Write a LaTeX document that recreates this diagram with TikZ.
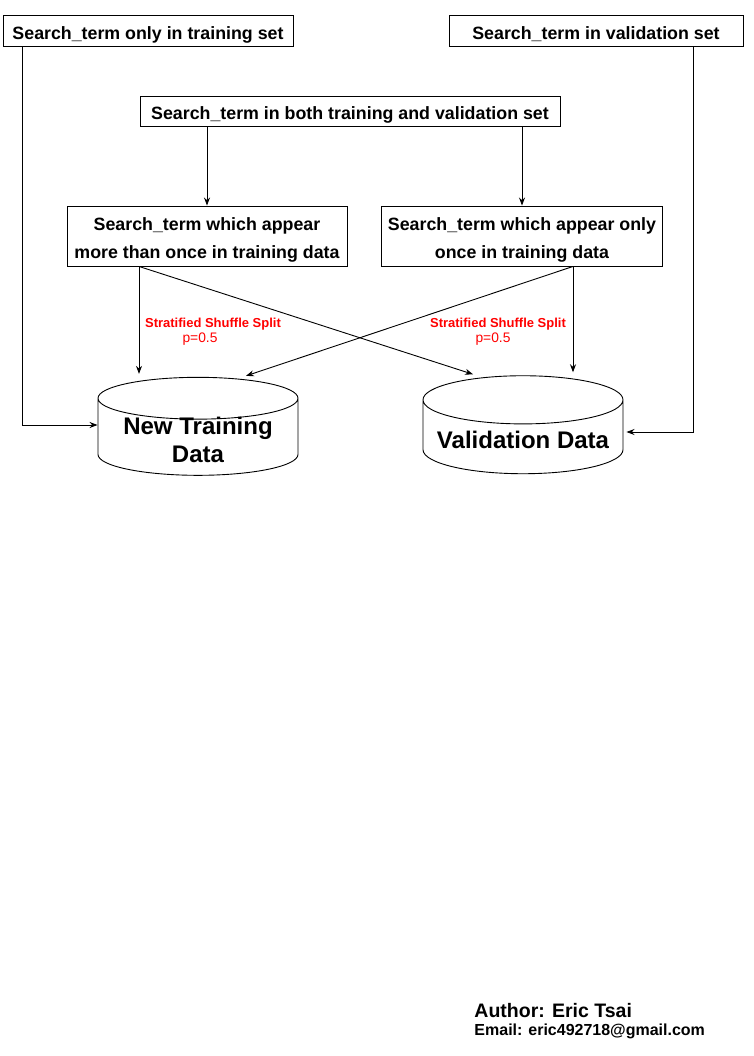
\documentclass[tikz,border=0pt]{standalone}
\usepackage{fontspec}
\setmainfont{Liberation Sans}
\usetikzlibrary{arrows.meta,shapes.geometric}

\begin{document}
\begin{tikzpicture}[x=1pt,y=-1pt,>={Stealth[length=8pt,width=6pt]},line width=0.9pt,
  font=\bfseries\fontsize{17.8}{28}\selectfont,
  term/.style={draw,inner sep=2pt,align=center,text height=18pt,text depth=0pt},
  term2/.style={term,text height=45pt},
  store/.style={draw,cylinder,shape border rotate=90,aspect=0.28,inner sep=0pt,
    minimum width=200pt,minimum height=98pt,text height=23.5pt,text depth=0pt,
    font=\bfseries\fontsize{24}{28}\selectfont},
  split/.style={text=red,inner sep=0pt,font=\bfseries\fontsize{13}{14}\selectfont},
  prob/.style={text=red,inner sep=0pt,font=\fontsize{13.8}{14}\selectfont}]
  \useasboundingbox (0,0) rectangle (753,1056);
  \node[term,minimum width=290pt,minimum height=31pt] (train) at (148, 31) {Search\_term only in training set};
  \node[term,minimum width=294pt,minimum height=31pt] (valid) at (596, 31) {Search\_term in validation set};
  \node[term,minimum width=420pt,minimum height=30pt] (both) at (350, 111) {Search\_term in both training and validation set};
  \node[term2,minimum width=280pt,minimum height=60pt] (many) at (207, 236) {Search\_term which appear\\more than once in training data};
  \node[term2,minimum width=281pt,minimum height=60pt] (once) at (522, 236) {Search\_term which appear only\\once in training data};
  \node[store] (newtrain) at (198, 437) {\smash{\begin{tabular}{@{}c@{}}New Training\\Data\end{tabular}}};
  \node[store] (valdata) at (523, 437) {Validation Data};
  \path[->] (both.south -| many) edge (many.north);
  \path[->] (both.south -| once) edge (once.north);
  \draw[->] ([xshift=-68pt]many.south) -- ([xshift=-59pt,yshift=3pt]newtrain.north);
  \draw[->] ([xshift=-68pt]many.south) -- ([xshift=-50pt,yshift=1pt]valdata.north);
  \draw[->] ([xshift=51pt]once.south) -- ([xshift=50pt,yshift=3pt]valdata.north);
  \draw[->] ([xshift=51pt]once.south) -- ([xshift=48pt,yshift=1pt]newtrain.north);
  \draw[->] ([xshift=-126pt]train.south) |- ([yshift=12pt]newtrain.west);
  \draw[->] ([xshift=97pt]valid.south) |- ([xshift=3pt,yshift=5pt]valdata.east);
  \node[split] (lsplit) at (213, 324) {Stratified Shuffle Split};
  \node[prob] (lprob) at (200, 339) {p=0.5};
  \node[split] (rsplit) at (498, 324) {Stratified Shuffle Split};
  \node[prob] (rprob) at (493, 339) {p=0.5};
  \node[anchor=west,inner sep=0pt,font=\bfseries\fontsize{19.5}{20}\selectfont] (author) at (474, 1011) {Author: Eric Tsai};
  \node[anchor=west,inner sep=0pt,font=\bfseries\fontsize{16}{18}\selectfont] (email) at (474, 1031) {Email: eric492718@gmail.com};
\end{tikzpicture}
\end{document}
